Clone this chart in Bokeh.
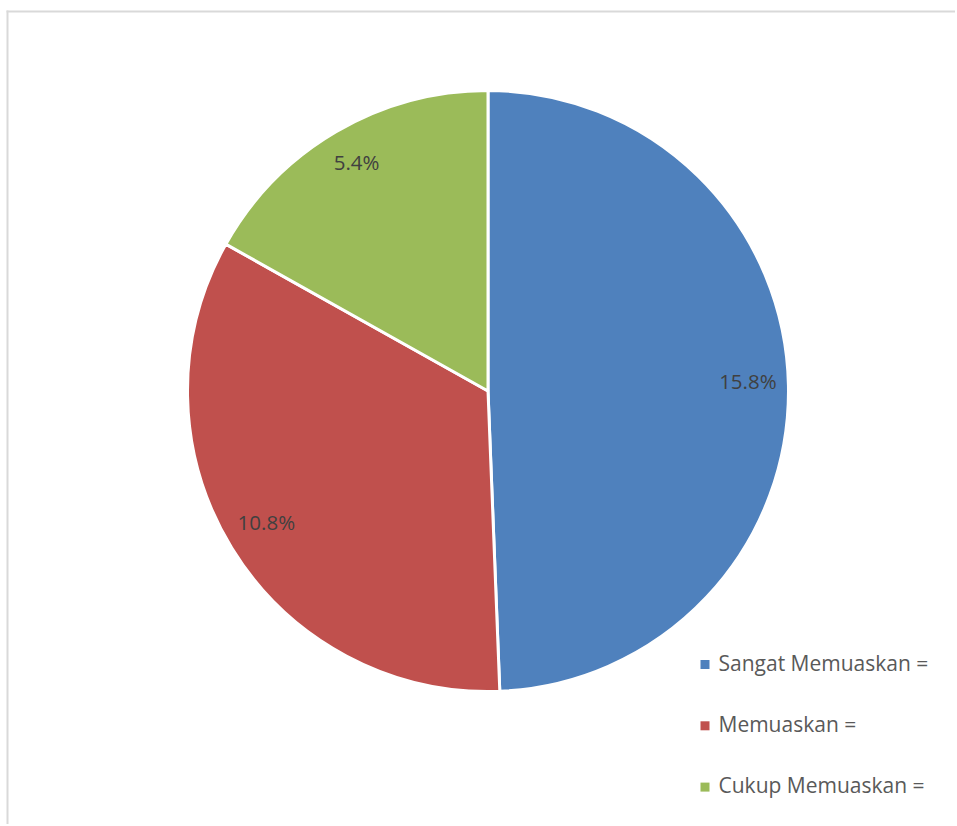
import numpy as np
from bokeh.plotting import figure
from bokeh.models import Range1d, ColumnDataSource
from bokeh.core.properties import value
from bokeh.embed import file_html
from bokeh.resources import INLINE

# ---- data ----
categories = ["Sangat Memuaskan =", "Memuaskan =", "Cukup Memuaskan ="]
values = [15.8, 10.8, 5.4]
labels = ["15.8%", "10.8%", "5.4%"]
colors = ["#4F81BD", "#C0504D", "#9BBB59"]

W, H = 955, 824
OFF = 0  # page offset of the figure


def py(y):
    """page y -> data y (data y grows upward)"""
    return (H + OFF) - y


p = figure(width=W, height=H, output_backend="svg", toolbar_location=None,
           x_range=Range1d(OFF, OFF + W), y_range=Range1d(0, H),
           min_border=0, outline_line_color=None)
p.axis.visible = False
p.grid.visible = False
p.background_fill_color = "white"
p.border_fill_color = "white"

# chart-area border (left and top sides visible)
p.segment(x0=[7, 6], y0=[py(10), py(11)], x1=[7, OFF + W], y1=[py(OFF + H), py(11)],
          line_color="#D9D9D9", line_width=2)

# ---- pie ----
cx, cy, R = 487.5, py(390.5), 300.5
vals = np.array(values, dtype=float)
frac = vals / vals.sum()
cum = np.concatenate([[0.0], np.cumsum(frac)])
theta0 = cum[:-1] * 2 * np.pi  # clockwise from top
theta1 = cum[1:] * 2 * np.pi
start = np.pi / 2 - theta1
end = np.pi / 2 - theta0

src = ColumnDataSource(dict(start=start, end=end, color=colors))
p.wedge(x=cx, y=cy, radius=R, start_angle="start", end_angle="end",
        fill_color="color", line_color="white", line_width=3, source=src)

mid = (theta0 + theta1) / 2
lr = 0.865 * R
lx = cx + lr * np.sin(mid)
ly = cy + lr * np.cos(mid)
p.text(x=lx, y=ly, text=labels, text_align="center", text_baseline="middle",
       y_offset=-5, text_font=value("Open Sans"), text_font_size="20.5px",
       text_color="#404040")

# ---- legend ----
leg_x, leg_y0, leg_dy = 704.5, 664, 61.3
ly_leg = [py(leg_y0 + i * leg_dy) for i in range(len(categories))]
p.scatter(x=[leg_x] * len(categories), y=ly_leg, marker="square", size=9,
          fill_color=colors, line_color=None)
p.text(x=[718] * len(categories), y=ly_leg, text=categories, text_align="left",
       text_baseline="middle", y_offset=-2, text_font=value("Open Sans"),
       text_font_size="21px", text_color="#595959")

open("out.html", "w").write(file_html(p, INLINE))
